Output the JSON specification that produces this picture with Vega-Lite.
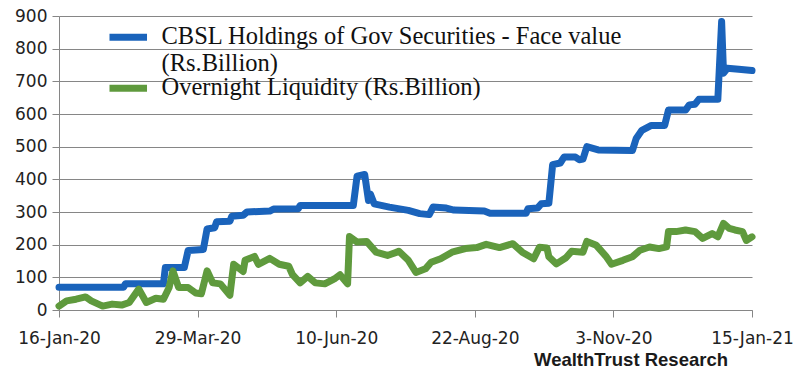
{
  "$schema": "https://vega.github.io/schema/vega-lite/v6.json",
  "width": 693,
  "height": 294,
  "autosize": {"type": "none"},
  "padding": {"left": 59, "top": 16, "right": 48, "bottom": 68},
  "background": "white",
  "title": {
    "text": "WealthTrust Research",
    "orient": "bottom",
    "anchor": "end",
    "frame": "group",
    "dx": -24,
    "offset": 5,
    "font": "Liberation Sans",
    "fontSize": 18.5,
    "fontWeight": "bold",
    "color": "#1a1a1a"
  },
  "data": {
    "values": [
      {"series": "CBSL Holdings of Gov Securities - Face value (Rs.Billion)", "date": "2020-01-16", "value": 70},
      {"series": "CBSL Holdings of Gov Securities - Face value (Rs.Billion)", "date": "2020-02-19", "value": 70},
      {"series": "CBSL Holdings of Gov Securities - Face value (Rs.Billion)", "date": "2020-02-20", "value": 80},
      {"series": "CBSL Holdings of Gov Securities - Face value (Rs.Billion)", "date": "2020-03-11", "value": 80},
      {"series": "CBSL Holdings of Gov Securities - Face value (Rs.Billion)", "date": "2020-03-12", "value": 130},
      {"series": "CBSL Holdings of Gov Securities - Face value (Rs.Billion)", "date": "2020-03-22", "value": 130},
      {"series": "CBSL Holdings of Gov Securities - Face value (Rs.Billion)", "date": "2020-03-24", "value": 182},
      {"series": "CBSL Holdings of Gov Securities - Face value (Rs.Billion)", "date": "2020-04-01", "value": 185},
      {"series": "CBSL Holdings of Gov Securities - Face value (Rs.Billion)", "date": "2020-04-03", "value": 248},
      {"series": "CBSL Holdings of Gov Securities - Face value (Rs.Billion)", "date": "2020-04-07", "value": 252},
      {"series": "CBSL Holdings of Gov Securities - Face value (Rs.Billion)", "date": "2020-04-08", "value": 270},
      {"series": "CBSL Holdings of Gov Securities - Face value (Rs.Billion)", "date": "2020-04-15", "value": 272},
      {"series": "CBSL Holdings of Gov Securities - Face value (Rs.Billion)", "date": "2020-04-16", "value": 287},
      {"series": "CBSL Holdings of Gov Securities - Face value (Rs.Billion)", "date": "2020-04-22", "value": 290},
      {"series": "CBSL Holdings of Gov Securities - Face value (Rs.Billion)", "date": "2020-04-24", "value": 300},
      {"series": "CBSL Holdings of Gov Securities - Face value (Rs.Billion)", "date": "2020-05-06", "value": 303},
      {"series": "CBSL Holdings of Gov Securities - Face value (Rs.Billion)", "date": "2020-05-08", "value": 309},
      {"series": "CBSL Holdings of Gov Securities - Face value (Rs.Billion)", "date": "2020-05-21", "value": 310},
      {"series": "CBSL Holdings of Gov Securities - Face value (Rs.Billion)", "date": "2020-05-22", "value": 320},
      {"series": "CBSL Holdings of Gov Securities - Face value (Rs.Billion)", "date": "2020-06-19", "value": 320},
      {"series": "CBSL Holdings of Gov Securities - Face value (Rs.Billion)", "date": "2020-06-21", "value": 410},
      {"series": "CBSL Holdings of Gov Securities - Face value (Rs.Billion)", "date": "2020-06-25", "value": 415},
      {"series": "CBSL Holdings of Gov Securities - Face value (Rs.Billion)", "date": "2020-06-27", "value": 335},
      {"series": "CBSL Holdings of Gov Securities - Face value (Rs.Billion)", "date": "2020-06-28", "value": 355},
      {"series": "CBSL Holdings of Gov Securities - Face value (Rs.Billion)", "date": "2020-06-30", "value": 325},
      {"series": "CBSL Holdings of Gov Securities - Face value (Rs.Billion)", "date": "2020-07-08", "value": 315},
      {"series": "CBSL Holdings of Gov Securities - Face value (Rs.Billion)", "date": "2020-07-18", "value": 305},
      {"series": "CBSL Holdings of Gov Securities - Face value (Rs.Billion)", "date": "2020-07-24", "value": 295},
      {"series": "CBSL Holdings of Gov Securities - Face value (Rs.Billion)", "date": "2020-07-29", "value": 292},
      {"series": "CBSL Holdings of Gov Securities - Face value (Rs.Billion)", "date": "2020-07-31", "value": 315},
      {"series": "CBSL Holdings of Gov Securities - Face value (Rs.Billion)", "date": "2020-08-07", "value": 312},
      {"series": "CBSL Holdings of Gov Securities - Face value (Rs.Billion)", "date": "2020-08-11", "value": 306},
      {"series": "CBSL Holdings of Gov Securities - Face value (Rs.Billion)", "date": "2020-08-27", "value": 303},
      {"series": "CBSL Holdings of Gov Securities - Face value (Rs.Billion)", "date": "2020-08-30", "value": 296},
      {"series": "CBSL Holdings of Gov Securities - Face value (Rs.Billion)", "date": "2020-09-18", "value": 296},
      {"series": "CBSL Holdings of Gov Securities - Face value (Rs.Billion)", "date": "2020-09-19", "value": 310},
      {"series": "CBSL Holdings of Gov Securities - Face value (Rs.Billion)", "date": "2020-09-24", "value": 312},
      {"series": "CBSL Holdings of Gov Securities - Face value (Rs.Billion)", "date": "2020-09-26", "value": 325},
      {"series": "CBSL Holdings of Gov Securities - Face value (Rs.Billion)", "date": "2020-09-30", "value": 327},
      {"series": "CBSL Holdings of Gov Securities - Face value (Rs.Billion)", "date": "2020-10-02", "value": 445},
      {"series": "CBSL Holdings of Gov Securities - Face value (Rs.Billion)", "date": "2020-10-06", "value": 450},
      {"series": "CBSL Holdings of Gov Securities - Face value (Rs.Billion)", "date": "2020-10-08", "value": 468},
      {"series": "CBSL Holdings of Gov Securities - Face value (Rs.Billion)", "date": "2020-10-14", "value": 468},
      {"series": "CBSL Holdings of Gov Securities - Face value (Rs.Billion)", "date": "2020-10-16", "value": 460},
      {"series": "CBSL Holdings of Gov Securities - Face value (Rs.Billion)", "date": "2020-10-18", "value": 462},
      {"series": "CBSL Holdings of Gov Securities - Face value (Rs.Billion)", "date": "2020-10-20", "value": 500},
      {"series": "CBSL Holdings of Gov Securities - Face value (Rs.Billion)", "date": "2020-10-26", "value": 490},
      {"series": "CBSL Holdings of Gov Securities - Face value (Rs.Billion)", "date": "2020-11-13", "value": 488},
      {"series": "CBSL Holdings of Gov Securities - Face value (Rs.Billion)", "date": "2020-11-15", "value": 525},
      {"series": "CBSL Holdings of Gov Securities - Face value (Rs.Billion)", "date": "2020-11-18", "value": 550},
      {"series": "CBSL Holdings of Gov Securities - Face value (Rs.Billion)", "date": "2020-11-23", "value": 565},
      {"series": "CBSL Holdings of Gov Securities - Face value (Rs.Billion)", "date": "2020-11-30", "value": 565},
      {"series": "CBSL Holdings of Gov Securities - Face value (Rs.Billion)", "date": "2020-12-02", "value": 612},
      {"series": "CBSL Holdings of Gov Securities - Face value (Rs.Billion)", "date": "2020-12-11", "value": 612},
      {"series": "CBSL Holdings of Gov Securities - Face value (Rs.Billion)", "date": "2020-12-13", "value": 628},
      {"series": "CBSL Holdings of Gov Securities - Face value (Rs.Billion)", "date": "2020-12-16", "value": 630},
      {"series": "CBSL Holdings of Gov Securities - Face value (Rs.Billion)", "date": "2020-12-18", "value": 645},
      {"series": "CBSL Holdings of Gov Securities - Face value (Rs.Billion)", "date": "2020-12-28", "value": 645},
      {"series": "CBSL Holdings of Gov Securities - Face value (Rs.Billion)", "date": "2020-12-30", "value": 883},
      {"series": "CBSL Holdings of Gov Securities - Face value (Rs.Billion)", "date": "2020-12-31", "value": 725},
      {"series": "CBSL Holdings of Gov Securities - Face value (Rs.Billion)", "date": "2021-01-02", "value": 740},
      {"series": "CBSL Holdings of Gov Securities - Face value (Rs.Billion)", "date": "2021-01-08", "value": 737},
      {"series": "CBSL Holdings of Gov Securities - Face value (Rs.Billion)", "date": "2021-01-15", "value": 733},
      {"series": "Overnight Liquidity (Rs.Billion)", "date": "2020-01-16", "value": 12},
      {"series": "Overnight Liquidity (Rs.Billion)", "date": "2020-01-20", "value": 28},
      {"series": "Overnight Liquidity (Rs.Billion)", "date": "2020-01-25", "value": 33},
      {"series": "Overnight Liquidity (Rs.Billion)", "date": "2020-01-30", "value": 40},
      {"series": "Overnight Liquidity (Rs.Billion)", "date": "2020-02-02", "value": 28},
      {"series": "Overnight Liquidity (Rs.Billion)", "date": "2020-02-08", "value": 12},
      {"series": "Overnight Liquidity (Rs.Billion)", "date": "2020-02-13", "value": 18},
      {"series": "Overnight Liquidity (Rs.Billion)", "date": "2020-02-18", "value": 15},
      {"series": "Overnight Liquidity (Rs.Billion)", "date": "2020-02-22", "value": 23},
      {"series": "Overnight Liquidity (Rs.Billion)", "date": "2020-02-27", "value": 64},
      {"series": "Overnight Liquidity (Rs.Billion)", "date": "2020-03-02", "value": 23},
      {"series": "Overnight Liquidity (Rs.Billion)", "date": "2020-03-07", "value": 36},
      {"series": "Overnight Liquidity (Rs.Billion)", "date": "2020-03-11", "value": 33},
      {"series": "Overnight Liquidity (Rs.Billion)", "date": "2020-03-14", "value": 69},
      {"series": "Overnight Liquidity (Rs.Billion)", "date": "2020-03-16", "value": 120},
      {"series": "Overnight Liquidity (Rs.Billion)", "date": "2020-03-19", "value": 69},
      {"series": "Overnight Liquidity (Rs.Billion)", "date": "2020-03-24", "value": 69},
      {"series": "Overnight Liquidity (Rs.Billion)", "date": "2020-03-28", "value": 52},
      {"series": "Overnight Liquidity (Rs.Billion)", "date": "2020-03-31", "value": 50},
      {"series": "Overnight Liquidity (Rs.Billion)", "date": "2020-04-03", "value": 120},
      {"series": "Overnight Liquidity (Rs.Billion)", "date": "2020-04-06", "value": 83},
      {"series": "Overnight Liquidity (Rs.Billion)", "date": "2020-04-10", "value": 80},
      {"series": "Overnight Liquidity (Rs.Billion)", "date": "2020-04-15", "value": 45},
      {"series": "Overnight Liquidity (Rs.Billion)", "date": "2020-04-17", "value": 140},
      {"series": "Overnight Liquidity (Rs.Billion)", "date": "2020-04-22", "value": 118},
      {"series": "Overnight Liquidity (Rs.Billion)", "date": "2020-04-23", "value": 152},
      {"series": "Overnight Liquidity (Rs.Billion)", "date": "2020-04-28", "value": 164},
      {"series": "Overnight Liquidity (Rs.Billion)", "date": "2020-04-30", "value": 140},
      {"series": "Overnight Liquidity (Rs.Billion)", "date": "2020-05-06", "value": 158},
      {"series": "Overnight Liquidity (Rs.Billion)", "date": "2020-05-11", "value": 140},
      {"series": "Overnight Liquidity (Rs.Billion)", "date": "2020-05-16", "value": 134},
      {"series": "Overnight Liquidity (Rs.Billion)", "date": "2020-05-18", "value": 108},
      {"series": "Overnight Liquidity (Rs.Billion)", "date": "2020-05-22", "value": 83},
      {"series": "Overnight Liquidity (Rs.Billion)", "date": "2020-05-26", "value": 103},
      {"series": "Overnight Liquidity (Rs.Billion)", "date": "2020-05-30", "value": 83},
      {"series": "Overnight Liquidity (Rs.Billion)", "date": "2020-06-04", "value": 80},
      {"series": "Overnight Liquidity (Rs.Billion)", "date": "2020-06-09", "value": 95},
      {"series": "Overnight Liquidity (Rs.Billion)", "date": "2020-06-12", "value": 108},
      {"series": "Overnight Liquidity (Rs.Billion)", "date": "2020-06-16", "value": 80},
      {"series": "Overnight Liquidity (Rs.Billion)", "date": "2020-06-17", "value": 225},
      {"series": "Overnight Liquidity (Rs.Billion)", "date": "2020-06-21", "value": 208},
      {"series": "Overnight Liquidity (Rs.Billion)", "date": "2020-06-26", "value": 210},
      {"series": "Overnight Liquidity (Rs.Billion)", "date": "2020-07-01", "value": 177},
      {"series": "Overnight Liquidity (Rs.Billion)", "date": "2020-07-07", "value": 167},
      {"series": "Overnight Liquidity (Rs.Billion)", "date": "2020-07-12", "value": 177},
      {"series": "Overnight Liquidity (Rs.Billion)", "date": "2020-07-13", "value": 180},
      {"series": "Overnight Liquidity (Rs.Billion)", "date": "2020-07-18", "value": 152},
      {"series": "Overnight Liquidity (Rs.Billion)", "date": "2020-07-22", "value": 115},
      {"series": "Overnight Liquidity (Rs.Billion)", "date": "2020-07-27", "value": 126},
      {"series": "Overnight Liquidity (Rs.Billion)", "date": "2020-07-30", "value": 146},
      {"series": "Overnight Liquidity (Rs.Billion)", "date": "2020-08-04", "value": 157},
      {"series": "Overnight Liquidity (Rs.Billion)", "date": "2020-08-10", "value": 177},
      {"series": "Overnight Liquidity (Rs.Billion)", "date": "2020-08-17", "value": 188},
      {"series": "Overnight Liquidity (Rs.Billion)", "date": "2020-08-23", "value": 191},
      {"series": "Overnight Liquidity (Rs.Billion)", "date": "2020-08-28", "value": 201},
      {"series": "Overnight Liquidity (Rs.Billion)", "date": "2020-09-04", "value": 191},
      {"series": "Overnight Liquidity (Rs.Billion)", "date": "2020-09-11", "value": 203},
      {"series": "Overnight Liquidity (Rs.Billion)", "date": "2020-09-16", "value": 177},
      {"series": "Overnight Liquidity (Rs.Billion)", "date": "2020-09-22", "value": 157},
      {"series": "Overnight Liquidity (Rs.Billion)", "date": "2020-09-25", "value": 192},
      {"series": "Overnight Liquidity (Rs.Billion)", "date": "2020-09-29", "value": 190},
      {"series": "Overnight Liquidity (Rs.Billion)", "date": "2020-09-30", "value": 163},
      {"series": "Overnight Liquidity (Rs.Billion)", "date": "2020-10-04", "value": 141},
      {"series": "Overnight Liquidity (Rs.Billion)", "date": "2020-10-09", "value": 160},
      {"series": "Overnight Liquidity (Rs.Billion)", "date": "2020-10-12", "value": 180},
      {"series": "Overnight Liquidity (Rs.Billion)", "date": "2020-10-18", "value": 177},
      {"series": "Overnight Liquidity (Rs.Billion)", "date": "2020-10-20", "value": 210},
      {"series": "Overnight Liquidity (Rs.Billion)", "date": "2020-10-25", "value": 198},
      {"series": "Overnight Liquidity (Rs.Billion)", "date": "2020-10-30", "value": 165},
      {"series": "Overnight Liquidity (Rs.Billion)", "date": "2020-11-02", "value": 140},
      {"series": "Overnight Liquidity (Rs.Billion)", "date": "2020-11-08", "value": 152},
      {"series": "Overnight Liquidity (Rs.Billion)", "date": "2020-11-13", "value": 163},
      {"series": "Overnight Liquidity (Rs.Billion)", "date": "2020-11-17", "value": 183},
      {"series": "Overnight Liquidity (Rs.Billion)", "date": "2020-11-22", "value": 193},
      {"series": "Overnight Liquidity (Rs.Billion)", "date": "2020-11-27", "value": 188},
      {"series": "Overnight Liquidity (Rs.Billion)", "date": "2020-12-01", "value": 193},
      {"series": "Overnight Liquidity (Rs.Billion)", "date": "2020-12-02", "value": 240},
      {"series": "Overnight Liquidity (Rs.Billion)", "date": "2020-12-06", "value": 240},
      {"series": "Overnight Liquidity (Rs.Billion)", "date": "2020-12-11", "value": 245},
      {"series": "Overnight Liquidity (Rs.Billion)", "date": "2020-12-16", "value": 240},
      {"series": "Overnight Liquidity (Rs.Billion)", "date": "2020-12-20", "value": 219},
      {"series": "Overnight Liquidity (Rs.Billion)", "date": "2020-12-25", "value": 234},
      {"series": "Overnight Liquidity (Rs.Billion)", "date": "2020-12-28", "value": 224},
      {"series": "Overnight Liquidity (Rs.Billion)", "date": "2020-12-31", "value": 265},
      {"series": "Overnight Liquidity (Rs.Billion)", "date": "2021-01-03", "value": 250},
      {"series": "Overnight Liquidity (Rs.Billion)", "date": "2021-01-06", "value": 245},
      {"series": "Overnight Liquidity (Rs.Billion)", "date": "2021-01-10", "value": 240},
      {"series": "Overnight Liquidity (Rs.Billion)", "date": "2021-01-12", "value": 213},
      {"series": "Overnight Liquidity (Rs.Billion)", "date": "2021-01-15", "value": 224}
    ]
  },
  "mark": {"type": "line", "strokeWidth": 7, "strokeJoin": "round", "strokeCap": "round"},
  "encoding": {
    "x": {
      "field": "date",
      "type": "temporal",
      "scale": {
        "type": "utc",
        "domain": [
          {"year": 2020, "month": 1, "date": 16, "utc": true},
          {"year": 2021, "month": 1, "date": 15, "utc": true}
        ]
      },
      "axis": {
        "title": null,
        "values": [
          {"year": 2020, "month": 1, "date": 16, "utc": true},
          {"year": 2020, "month": 3, "date": 29, "utc": true},
          {"year": 2020, "month": 6, "date": 10, "utc": true},
          {"year": 2020, "month": 8, "date": 22, "utc": true},
          {"year": 2020, "month": 11, "date": 3, "utc": true},
          {"year": 2021, "month": 1, "date": 15, "utc": true}
        ],
        "labelExpr": "utcFormat(datum.value, '%-d-%b-%y')",
        "grid": false,
        "domainColor": "#868686",
        "tickColor": "#868686",
        "tickSize": 7,
        "labelPadding": 13,
        "labelFont": "DejaVu Sans",
        "labelFontSize": 17,
        "labelColor": "#222222",
        "labelOverlap": false,
        "labelFlush": false
      }
    },
    "y": {
      "field": "value",
      "type": "quantitative",
      "scale": {"domain": [0, 900], "nice": false},
      "axis": {
        "title": null,
        "values": [0, 100, 200, 300, 400, 500, 600, 700, 800, 900],
        "grid": true,
        "gridColor": "#868686",
        "domainColor": "#868686",
        "tickColor": "#868686",
        "tickSize": 7,
        "labelPadding": 5,
        "labelFont": "DejaVu Sans",
        "labelFontSize": 17,
        "labelColor": "#222222"
      }
    },
    "color": {
      "field": "series",
      "type": "nominal",
      "scale": {
        "domain": ["CBSL Holdings of Gov Securities - Face value (Rs.Billion)", "Overnight Liquidity (Rs.Billion)"],
        "range": ["#1a63bb", "#5f9a3d"]
      },
      "legend": {
        "orient": "none",
        "legendX": 57,
        "legendY": 9,
        "title": null,
        "padding": 0,
        "rowPadding": -4,
        "symbolType": "M-4,0H4",
        "symbolSize": 88,
        "symbolStrokeWidth": 7,
        "labelOffset": 21,
        "labelLimit": 0,
        "labelFont": "Liberation Serif",
        "labelFontSize": 24.5,
        "labelColor": "#111111",
        "labelExpr": "datum.label == 'CBSL Holdings of Gov Securities - Face value (Rs.Billion)' ? ['CBSL Holdings of Gov Securities - Face value', '(Rs.Billion)'] : datum.label"
      }
    }
  },
  "config": {"view": {"stroke": null}}
}
